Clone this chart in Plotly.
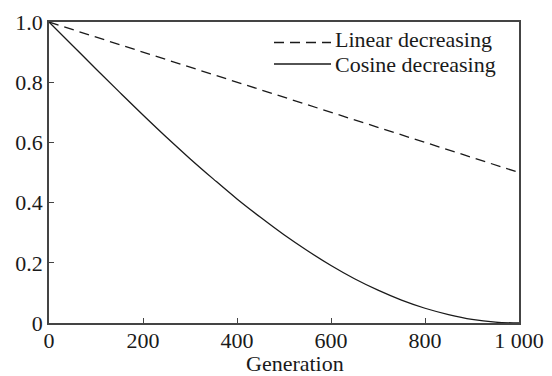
import plotly.graph_objects as go

# Generations and decreasing factor values
generation = [0, 50, 100, 150, 200, 250, 300, 350, 400, 450, 500,
              550, 600, 650, 700, 750, 800, 850, 900, 950, 1000]
cosine_decreasing = [1.0, 0.922, 0.844, 0.767, 0.691, 0.617, 0.546, 0.478, 0.412, 0.351, 0.293,
                     0.240, 0.191, 0.147, 0.109, 0.076, 0.049, 0.028, 0.012, 0.003, 0.0]
linear_generation = [0, 1000]
linear_decreasing = [1.0, 0.5]

x_tick_vals = [0, 200, 400, 600, 800, 1000]
x_tick_text = ["0", "200", "400", "600", "800", "1 000"]
y_tick_vals = [0, 0.2, 0.4, 0.6, 0.8, 1.0]
y_tick_text = ["0", "0.2", "0.4", "0.6", "0.8", "1.0"]

series_names = ["Linear decreasing", "Cosine decreasing"]
series_dash = ["10px,6px", "solid"]

FONT = "Liberation Serif, Times New Roman, serif"
INK = "#1a1a1a"
W, H = 552, 376
ML, MR, MT, MB = 49, 33, 22, 53
PW, PH = W - ML - MR, H - MT - MB


def px_to_paper_x(px):
    return (px - ML) / PW


def px_to_paper_y(py):
    return (H - MB - py) / PH


fig = go.Figure()
fig.add_trace(go.Scatter(
    x=linear_generation, y=linear_decreasing, mode="lines",
    name=series_names[0],
    line=dict(color=INK, width=1.3, dash=series_dash[0]),
))
fig.add_trace(go.Scatter(
    x=generation, y=cosine_decreasing, mode="lines",
    name=series_names[1],
    line=dict(color=INK, width=1.3, shape="spline", dash=series_dash[1]),
))

axis_common = dict(
    showline=True, linecolor="#444444", linewidth=1.5, mirror=True,
    ticks="inside", ticklen=5, tickwidth=1, tickcolor="#444444",
    showgrid=False, zeroline=False, automargin=False,
    tickfont=dict(family=FONT, size=22, color=INK),
)

# Compact legend in the top-right corner: sample line + label per series
legend_line_py = [42.5, 64]
legend_text_py = [39.5, 64]
shapes = []
annotations = []
for name, dash, line_py, text_py in zip(series_names, series_dash,
                                        legend_line_py, legend_text_py):
    shapes.append(dict(
        type="line", xref="paper", yref="paper",
        x0=px_to_paper_x(274), x1=px_to_paper_x(331),
        y0=px_to_paper_y(line_py), y1=px_to_paper_y(line_py),
        line=dict(color=INK, width=1.3, dash=dash),
    ))
    annotations.append(dict(
        text=name, xref="paper", yref="paper",
        x=px_to_paper_x(334), y=px_to_paper_y(text_py),
        xanchor="left", yanchor="middle", showarrow=False, borderpad=0,
        font=dict(family=FONT, size=22, color=INK),
    ))

# Axis title below the tick labels
annotations.append(dict(
    text="Generation", xref="paper", yref="paper",
    x=px_to_paper_x(295), y=px_to_paper_y(363),
    xanchor="center", yanchor="middle", showarrow=False, borderpad=0,
    font=dict(family=FONT, size=22, color=INK),
))

fig.update_layout(
    width=W, height=H,
    margin=dict(l=ML, r=MR, t=MT, b=MB),
    paper_bgcolor="white", plot_bgcolor="white",
    font=dict(family=FONT, size=22, color=INK),
    xaxis=dict(range=[0, 1000], tickvals=x_tick_vals, ticktext=x_tick_text,
               ticklabelstandoff=-3, **axis_common),
    yaxis=dict(range=[0, 1.0], tickvals=y_tick_vals, ticktext=y_tick_text,
               **axis_common),
    shapes=shapes,
    annotations=annotations,
    showlegend=False,
)

fig.write_html("out.html")
